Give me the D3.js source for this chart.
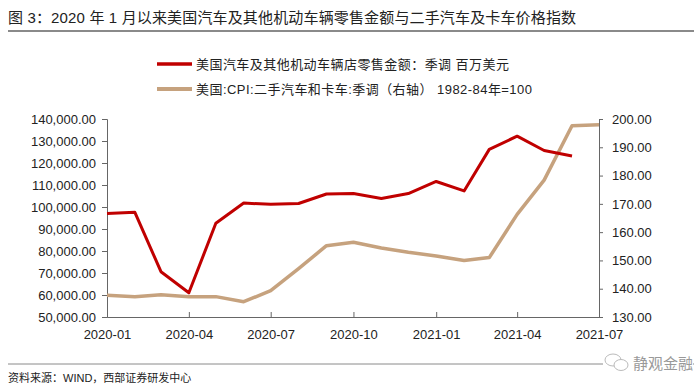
<!DOCTYPE html>
<html><head><meta charset="utf-8">
<script src="https://cdn.jsdelivr.net/npm/d3@7"></script>
<style>
body{margin:0;background:#fff;}
text{font-family:"Liberation Sans","Noto Sans CJK SC",sans-serif;}
</style></head>
<body>
<svg id="c" width="700" height="391"></svg>
<script>
const months = ["2020-01","2020-02","2020-03","2020-04","2020-05","2020-06","2020-07","2020-08","2020-09","2020-10","2020-11","2020-12","2021-01","2021-02","2021-03","2021-04","2021-05","2021-06","2021-07"];
const retailSales = [97100,97600,70600,61000,92600,101800,101200,101600,105900,106100,103900,106100,111600,107300,126200,132200,125700,123200,null];
const usedCarCPI = [137.7,137.2,137.9,137.2,137.2,135.4,139.3,147.1,155.2,156.4,154.4,152.9,151.6,150.0,151.0,166.3,178.4,197.6,198.0];
const xTickLabels = ["2020-01","2020-04","2020-07","2020-10","2021-01","2021-04","2021-07"];
const leftTicks = [50000,60000,70000,80000,90000,100000,110000,120000,130000,140000];
const rightTicks = [130,140,150,160,170,180,190,200];
const seriesNames = ["美国汽车及其他机动车辆店零售金额：季调 百万美元","美国:CPI:二手汽车和卡车:季调（右轴） 1982-84年=100"];
const titleText = "图 3：2020 年 1 月以来美国汽车及其他机动车辆零售金额与二手汽车及卡车价格指数";
const sourceText = "资料来源：WIND，西部证券研发中心";

const parse = d3.timeParse("%Y-%m");
const svg = d3.select("#c");
const L = 107, R = 599, T = 119, B = 317;

const x = d3.scaleTime().domain([parse(months[0]), parse(months[months.length-1])]).range([L, R]);
const yL = d3.scaleLinear().domain([50000,140000]).range([B, T]);
const yR = d3.scaleLinear().domain([130,200]).range([B, T]);

// title & rules
svg.append("text").attr("x",8).attr("y",23).attr("font-size",15).attr("letter-spacing",0.15).attr("fill","#222").text(titleText);
svg.append("line").attr("x1",8).attr("x2",694).attr("y1",31).attr("y2",31).attr("stroke","#8a8a8a").attr("stroke-width",2);
svg.append("line").attr("x1",8).attr("x2",694).attr("y1",364).attr("y2",364).attr("stroke","#8a8a8a").attr("stroke-width",1);
svg.append("text").attr("x",8).attr("y",382).attr("font-size",11).attr("fill","#222").text(sourceText);

// watermark
const wm = svg.append("g");
wm.append("rect").attr("x",603).attr("y",354).attr("width",90).attr("height",20).attr("fill","#fff");
wm.append("ellipse").attr("cx",613).attr("cy",360).attr("rx",8).attr("ry",6).attr("fill","#fff").attr("stroke","#bbb");
wm.append("ellipse").attr("cx",621).attr("cy",365).attr("rx",7).attr("ry",5.5).attr("fill","#fff").attr("stroke","#bbb");
wm.append("text").attr("x",633).attr("y",369).attr("font-size",15).attr("fill","#999").text("静观金融");

// legend
const colors = ["#c00000","#c6a27e"];
const legY = [64, 89];
seriesNames.forEach((n,i)=>{
  svg.append("line").attr("x1",157).attr("x2",192).attr("y1",legY[i]).attr("y2",legY[i]).attr("stroke",colors[i]).attr("stroke-width",i?4:3.5);
  svg.append("text").attr("x",196).attr("y",legY[i]+4.5).attr("font-size",13).attr("letter-spacing",0.45).attr("fill","#222").text(n);
});

// axes
const axisColor = "#666";
const gL = svg.append("g").attr("transform",`translate(${L},0)`)
  .call(d3.axisLeft(yL).tickValues(leftTicks).tickSize(5).tickPadding(6).tickFormat(d3.format(",.2f")));
const gR = svg.append("g").attr("transform",`translate(${R},0)`)
  .call(d3.axisRight(yR).tickValues(rightTicks).tickSize(4).tickPadding(9).tickFormat(d3.format(".2f")));
const gX = svg.append("g").attr("transform",`translate(0,${B})`)
  .call(d3.axisBottom(x).tickValues(xTickLabels.map(parse)).tickSize(-5).tickPadding(10).tickFormat(d3.timeFormat("%Y-%m")));
[gL,gR,gX].forEach(g=>{
  g.select(".domain").attr("stroke",axisColor);
  g.selectAll(".tick line").attr("stroke",axisColor);
  g.selectAll(".tick text").attr("font-size",13).attr("fill","#222").attr("font-family","Liberation Sans, Arial, sans-serif");
});
gX.selectAll(".tick text").attr("dy","0.9em");

// lines
const lineL = d3.line().defined((d,i)=>retailSales[i]!=null).x((d,i)=>x(parse(months[i]))).y((d,i)=>yL(retailSales[i]));
const lineR = d3.line().x((d,i)=>x(parse(months[i]))).y((d,i)=>yR(usedCarCPI[i]));
svg.append("path").datum(months).attr("d",lineR).attr("fill","none").attr("stroke",colors[1]).attr("stroke-width",3.5).attr("stroke-linejoin","round");
svg.append("path").datum(months).attr("d",lineL).attr("fill","none").attr("stroke",colors[0]).attr("stroke-width",3).attr("stroke-linejoin","round");
</script>
</body></html>
